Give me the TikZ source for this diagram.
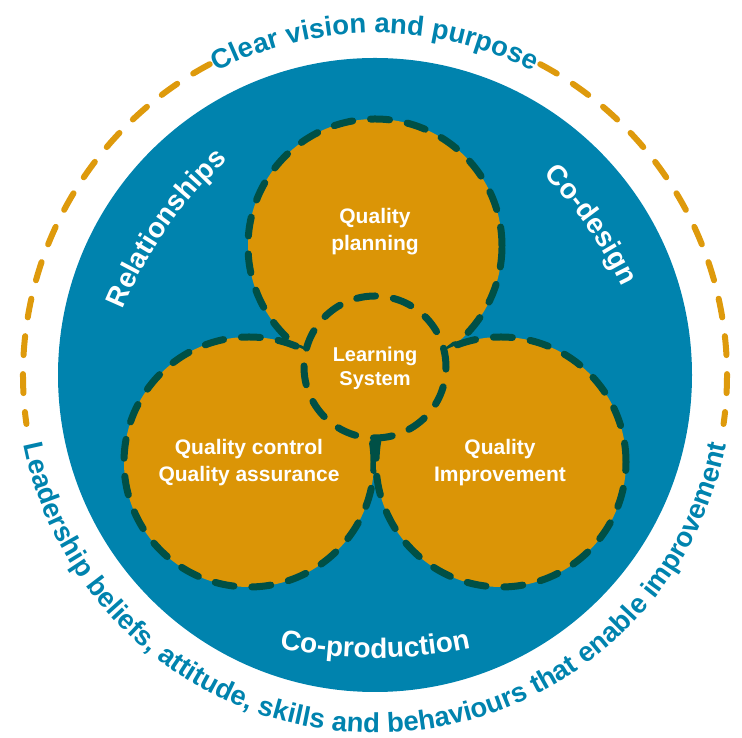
\documentclass[tikz,border=0pt]{standalone}
\usepackage{fontspec}
\setmainfont{Liberation Sans}
\usetikzlibrary{decorations.text,calc}
\definecolor{discblue}{HTML}{0083AE}
\definecolor{lobegold}{HTML}{DB9506}
\definecolor{ringgold}{HTML}{DE9A0C}
\definecolor{darkteal}{HTML}{005046}

\begin{document}
\begin{tikzpicture}[x=1pt,y=1pt,
  lobe/.style={circle, inner sep=0pt, fill=lobegold, draw=darkteal, line width=7pt,
    dash pattern=on 19pt off 18pt, line cap=round},
  lobetext/.style={text=white, font=\fontsize{21}{27}\selectfont\bfseries, align=center, inner sep=0pt},
  ring/.style={draw=ringgold, line width=6pt, dash pattern=on 19pt off 19pt, line cap=round},
  arctext/.style={decorate, decoration={text along path, text align=center, text={#1}}},
]
\useasboundingbox (0,0) rectangle (742,738);
\coordinate (O) at (375,363);

% blue disc
\fill[discblue] (O) circle[radius=317];

% dashed outer ring, broken where the ring texts run
\draw[ring] ($(O)+(62:352)$) arc[start angle=62, end angle=-8, radius=352];
\draw[ring] ($(O)+(118:352)$) arc[start angle=118, end angle=188, radius=352];

% ring texts
\path[arctext={|\fontsize{27.5}{32}\selectfont\bfseries\color{discblue}|Clear vision and purpose}]
  ($(O)+(130:342)$) arc[start angle=130, end angle=50, radius=342];
\path[arctext={|\fontsize{27.5}{32}\selectfont\bfseries\color{discblue}|Leadership beliefs, attitude, skills and behaviours that enable improvement}]
  ($(O)+(182:358)$) arc[start angle=182, end angle=358, radius=358];

% labels inside the disc
\path[arctext={|\fontsize{28}{32}\selectfont\bfseries\color{white}|Relationships}]
  ($(511,268)+(163:420)$) arc[start angle=163, end angle=127, radius=420];
\path[arctext={|\fontsize{28}{32}\selectfont\bfseries\color{white}|Co-design}]
  ($(242.4,270.9)+(52.8:420)$) arc[start angle=52.8, end angle=16.8, radius=420];
\path[arctext={|\fontsize{28}{32}\selectfont\bfseries\color{white}|Co-production}]
  ($(375,540)+(250:460)$) arc[start angle=250, end angle=290, radius=460];

% three tangent lobes
\node[lobe, minimum size=254pt] (plan) at (375,492) {};
\node[lobe, minimum size=250pt] (control) at (249,276) {};
\node[lobe, minimum size=250pt] (improve) at (501,276) {};
% central lobe on top
\node[lobe, minimum size=142pt] (learn) at (375,371) {};

\node[lobetext] (plantext) at (375,506) {Quality\\planning};
\node[lobetext] (controltext) at (249,275) {Quality control\\Quality assurance};
\node[lobetext] (improvetext) at (500,275) {Quality\\Improvement};
\node[lobetext, font=\fontsize{20}{24}\selectfont\bfseries] (learntext) at (375,370) {Learning\\System};
\end{tikzpicture}
\end{document}
